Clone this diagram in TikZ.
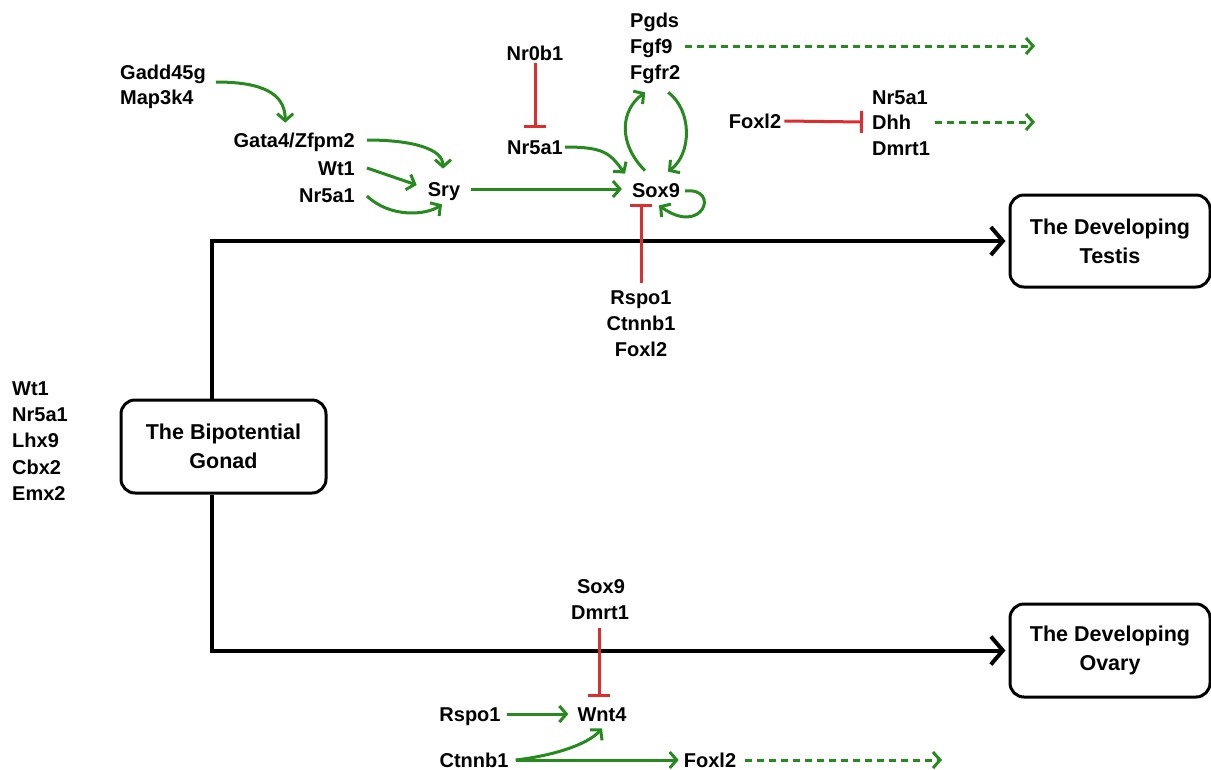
\documentclass[tikz,border=0pt]{standalone}
\usepackage{fontspec}
\setmainfont{Liberation Sans}
\usetikzlibrary{arrows.meta,calc}
\definecolor{ggreen}{RGB}{38,138,30}
\definecolor{rred}{RGB}{222,45,45}
\newcommand{\genefont}{\fontsize{20}{24}\selectfont\bfseries}
\newcommand{\boxfont}{\fontsize{21.5}{29}\selectfont\bfseries}
\begin{document}
\begin{tikzpicture}[x=1pt,y=-1pt,
 gene/.style={font=\genefont, inner sep=0pt, text height=14.3pt, text depth=0pt},
 stagebox/.style={draw, line width=3pt, rounded corners=14pt, fill=white, align=center, font=\boxfont, minimum width=200pt, minimum height=92pt, inner sep=0pt},
 act/.style={draw=ggreen, line width=3pt, -{Straight Barb[length=7pt,width=16pt]}},
 later/.style={act, dash pattern=on 7pt off 5pt},
 inhib/.style={draw=rred, line width=3pt, -{Bar[width=22pt]}},
 stage/.style={draw=black, line width=4pt, -{Straight Barb[length=12pt,width=28pt]}}]
\useasboundingbox (0,0) rectangle (1211,769);

% stage boxes
\node[stagebox, minimum width=205pt, minimum height=93pt] (gonad) at (223.5,446.5) {The Bipotential\\Gonad};
\node[stagebox] (testis) at (1110,241) {The Developing\\Testis};
\node[stagebox, minimum height=93pt] (ovary) at (1110,650.5) {The Developing\\Ovary};

% stage lines
\draw[stage, shorten >=3pt] ($(gonad.north)+(-11.5,0)$) |- (testis.west);
\draw[stage, shorten >=3pt] ($(gonad.south)+(-11.5,0)$) |- (ovary.west);

% bipotential genes
\node[gene, anchor=west] (l1) at (12,388) {Wt1};
\node[gene, anchor=west] (l2) at (12,414) {Nr5a1};
\node[gene, anchor=west] (l3) at (12,440) {Lhx9};
\node[gene, anchor=west] (l4) at (12,467) {Cbx2};
\node[gene, anchor=west] (l5) at (12,493) {Emx2};

% top-left cascade
\node[gene, anchor=west] (gadd) at (120,72) {Gadd45g};
\node[gene, anchor=west] (map) at (120,97) {Map3k4};
\node[gene, anchor=east] (gata) at (355,140) {Gata4/Zfpm2};
\node[gene, anchor=east] (wtA) at (355,168) {Wt1};
\node[gene, anchor=east] (nrA) at (355,195) {Nr5a1};
\node[gene] (sry) at (444,189) {Sry};

\draw[act] ($(gadd.east)+(10,10)$) .. controls +(45,0) and +(0,-30) .. ($(gata.north)+(-9,-10)$);
\draw[act] ($(gata.east)+(12,0)$) .. controls +(45,0) and +(0,-20) .. ($(sry.north)+(-1,-13)$);
\draw[act] ($(wtA.east)+(12,0)$) -- ($(sry.west)+(-11,-4)$);
\draw[act] ($(nrA.east)+(12,1)$) .. controls +(23,22) and +(-16,11) .. ($(sry.south)+(-2,8)$);

% Sox9 region
\node[gene] (nr0b1) at (535,53) {Nr0b1};
\node[gene] (nrB) at (535,147) {Nr5a1};
\node[gene] (sox) at (656,190) {Sox9};
\node[gene, anchor=west] (pgds) at (630,20) {Pgds};
\node[gene, anchor=west] (fgf9) at (630,46) {Fgf9};
\node[gene, anchor=west] (fgfr2) at (630,72) {Fgfr2};
\coordinate (fgfEnd) at (1035,46);

\draw[act] ($(sry.east)+(11,0)$) -- ($(sry.east -| sox.west)+(-10,0)$);
\draw[inhib] ($(nr0b1.south)+(0,3)$) -- ($(nrB.north)+(0,-12)$);
\draw[act] ($(nrB.east)+(2,0)$) .. controls +(40,0) and +(-15,-20) .. ($(sox.north)+(-31,-9)$);
\draw[act] ($(sox.north)+(-11,-12)$) .. controls +(-27,-27) and +(-25,18) .. ($(fgfr2.south)+(-10,13)$);
\draw[act] ($(fgfr2.south)+(13,13)$) .. controls +(24,18) and +(24,-18) .. ($(sox.north)+(12,-11)$);
\draw[act] ($(sox.east)+(5,1)$) .. controls +(36,-4) and +(44,32) .. ($(sox.south)+(3,8)$);
\draw[later] ($(fgf9.east)+(12,0)$) -- (fgfEnd);

\node[gene] (rsp) at (641,297) {Rspo1};
\node[gene] (ctn) at (641,323) {Ctnnb1};
\node[gene] (foxB) at (641,349) {Foxl2};
\draw[inhib] ($(rsp.north)+(0,-7)$) -- ($(rsp.north |- sox.south)+(0,7)$);

% Foxl2 inhibition (top right)
\node[gene] (foxA) at (755,121) {Foxl2};
\node[gene, anchor=west] (nrC) at (872,97) {Nr5a1};
\node[gene, anchor=west] (dhh) at (872,122) {Dhh};
\node[gene, anchor=west] (dmrt) at (872,148) {Dmrt1};
\coordinate (dhhEnd) at (1035,122);
\draw[inhib] ($(foxA.east)+(3,0)$) -- ($(dhh.west)+(-9,0)$);
\draw[later] ($(dhh.east)+(24,0)$) -- (dhhEnd);

% ovary pathway
\node[gene] (soxB) at (601,586) {Sox9};
\node[gene] (dmrtB) at (600,612) {Dmrt1};
\node[gene] (wnt) at (602,714) {Wnt4};
\node[gene] (rspB) at (470,714) {Rspo1};
\node[gene] (ctnB) at (474,760) {Ctnnb1};
\node[gene] (foxC) at (710,760) {Foxl2};
\coordinate (foxEnd) at (942,760);

\draw[inhib] ($(dmrtB.south)+(-1,9)$) -- ($(dmrtB.south |- wnt.north)+(-1,-10)$);
\draw[act] ($(rspB.east)+(6,0)$) -- ($(wnt.west)+(-9,0)$);
\draw[act] ($(ctnB.east)+(7,0)$) .. controls +(35,-4) and +(-15,17) .. ($(wnt.south)+(0,7)$);
\draw[act] ($(ctnB.east)+(7,0)$) -- ($(foxC.west)+(-5,0)$);
\draw[later] ($(foxC.east)+(9,0)$) -- (foxEnd);
\end{tikzpicture}
\end{document}
